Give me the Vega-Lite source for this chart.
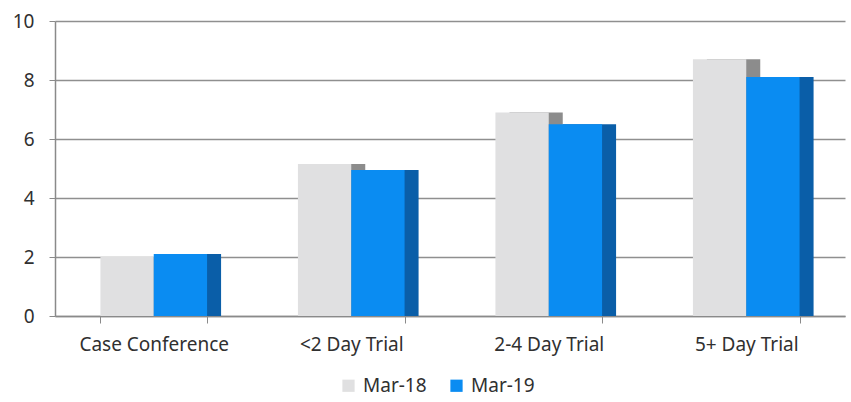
{
  "$schema": "https://vega.github.io/schema/vega-lite/v6.json",
  "autosize": "none",
  "width": 790,
  "height": 295,
  "padding": {"left": 55, "top": 21, "right": 6, "bottom": 86},
  "background": "white",
  "config": {
    "font": "Noto Sans",
    "view": {"stroke": null},
    "axis": {"labelFont": "Noto Sans", "labelColor": "#303030"}
  },
  "data": {
    "values": [
      {"category": "Case Conference", "series": "Mar-18", "value": 2.0},
      {"category": "Case Conference", "series": "Mar-19", "value": 2.1},
      {"category": "<2 Day Trial", "series": "Mar-18", "value": 5.15},
      {"category": "<2 Day Trial", "series": "Mar-19", "value": 4.95},
      {"category": "2-4 Day Trial", "series": "Mar-18", "value": 6.9},
      {"category": "2-4 Day Trial", "series": "Mar-19", "value": 6.5},
      {"category": "5+ Day Trial", "series": "Mar-18", "value": 8.7},
      {"category": "5+ Day Trial", "series": "Mar-19", "value": 8.1}
    ]
  },
  "encoding": {
    "x": {
      "field": "category",
      "type": "nominal",
      "sort": ["Case Conference", "<2 Day Trial", "2-4 Day Trial", "5+ Day Trial"],
      "scale": {"paddingInner": 0.46, "paddingOuter": 0.23},
      "axis": {
        "title": null,
        "labelAngle": 0,
        "labelFontSize": 19,
        "labelPadding": 12,
        "tickBand": "extent",
        "tickSize": 7,
        "tickColor": "#8a8a8a",
        "domainColor": "#8a8a8a",
        "domainWidth": 1.5,
        "grid": false
      }
    },
    "y": {
      "field": "value",
      "type": "quantitative",
      "scale": {"domain": [0, 10]},
      "axis": {
        "title": null,
        "values": [0, 2, 4, 6, 8, 10],
        "labelFontSize": 19,
        "labelPadding": 15,
        "tickSize": 6,
        "tickColor": "#8a8a8a",
        "domainColor": "#8a8a8a",
        "domainWidth": 1.5,
        "gridColor": "#8f8f8f",
        "gridWidth": 1.5
      }
    }
  },
  "layer": [
    {
      "layer": [
        {
          "transform": [{"filter": "datum.series == 'Mar-18'"}],
          "mark": {"type": "bar"},
          "encoding": {
            "xOffset": {"field": "series", "type": "nominal", "sort": ["Mar-18", "Mar-19"], "scale": {"domain": ["Mar-18", "Mar-19"], "range": [14, 120.65]}},
            "color": {"value": "#8c8c8c"}
          }
        }
      ]
    },
    {
      "layer": [
        {
          "transform": [{"filter": "datum.series == 'Mar-18'"}],
          "mark": {"type": "bar"},
          "encoding": {
            "xOffset": {"field": "series", "type": "nominal", "sort": ["Mar-18", "Mar-19"], "scale": {"domain": ["Mar-18", "Mar-19"]}},
            "color": {
              "field": "series",
              "type": "nominal",
              "scale": {"domain": ["Mar-18", "Mar-19"], "range": ["#e0e0e1", "#0a8cf2"]},
              "legend": {
                "title": null,
                "orient": "none",
                "direction": "horizontal",
                "legendX": 284,
                "legendY": 355,
                "symbolType": "square",
                "symbolSize": 150,
                "symbolStrokeWidth": 0,
                "labelFontSize": 19,
                "labelColor": "#303030",
                "columnPadding": 20,
                "labelOffset": 5
              }
            }
          }
        }
      ]
    },
    {
      "layer": [
        {
          "transform": [{"filter": "datum.series == 'Mar-19'"}],
          "mark": {"type": "bar"},
          "encoding": {
            "xOffset": {"field": "series", "type": "nominal", "sort": ["Mar-18", "Mar-19"], "scale": {"domain": ["Mar-18", "Mar-19"], "range": [14, 120.65]}},
            "color": {"value": "#0a5ea8"}
          }
        }
      ]
    },
    {
      "layer": [
        {
          "transform": [{"filter": "datum.series == 'Mar-19'"}],
          "mark": {"type": "bar"},
          "encoding": {
            "xOffset": {"field": "series", "type": "nominal", "sort": ["Mar-18", "Mar-19"], "scale": {"domain": ["Mar-18", "Mar-19"]}},
            "color": {
              "field": "series",
              "type": "nominal",
              "scale": {"domain": ["Mar-18", "Mar-19"], "range": ["#e0e0e1", "#0a8cf2"]}
            }
          }
        }
      ]
    }
  ],
  "resolve": {"scale": {"xOffset": "independent"}}
}
